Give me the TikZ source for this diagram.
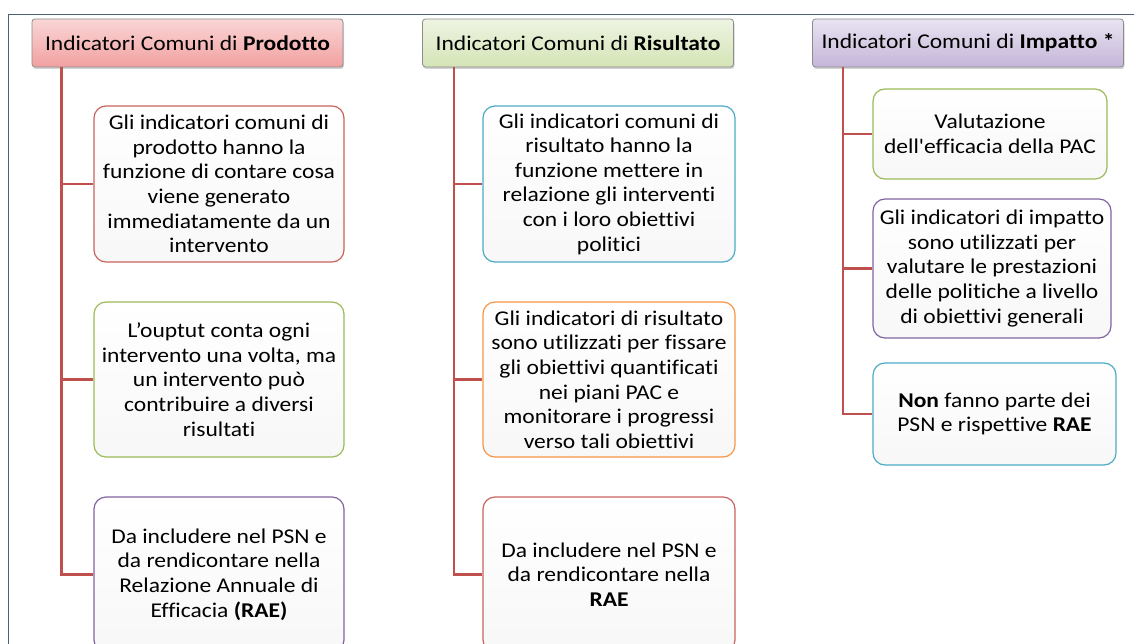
\documentclass[tikz,border=0pt]{standalone}
\usepackage{fontspec}
\newfontfamily\boxfont{Carlito}[Ligatures=NoCommon, FakeStretch=1.12]
\usetikzlibrary{shadows}
\definecolor{linkred}{HTML}{C0504D}
\definecolor{boxred}{HTML}{C9635F}
\definecolor{boxgreen}{HTML}{9BBB59}
\definecolor{boxpurple}{HTML}{8064A2}
\definecolor{boxaqua}{HTML}{4BACC6}
\definecolor{boxorange}{HTML}{F79646}
\definecolor{framecol}{HTML}{4F6079}
\definecolor{hdrline}{HTML}{8C8C8C}
\begin{document}
\begin{tikzpicture}[x=1pt,y=-1pt,
	header/.style={draw=hdrline, line width=0.8pt, rounded corners=3pt, minimum width=311pt, minimum height=48pt,
		font=\boxfont\fontsize{21}{24}\selectfont, drop shadow={shadow xshift=1pt, shadow yshift=-2pt, opacity=0.35}},
	cardbox/.style={draw=#1, line width=1.2pt, rounded corners=12pt, top color=white, bottom color=gray!6,
		align=center, inner sep=0pt, font=\boxfont\fontsize{21}{24.6}\selectfont},
	link/.style={draw=linkred, line width=2.6pt}]
	\clip (0,0) rectangle (1134,644);
	\draw[framecol, line width=1.6pt] (8.5,14.5) rectangle (1160,680);
	% headers
	\node[header, top color={rgb,255:red,250;green,214;blue,214}, bottom color={rgb,255:red,242;green,160;blue,160}] (h1) at (187.5,43) {Indicatori Comuni di \textbf{Prodotto}};
	\node[header, top color={rgb,255:red,238;green,244;blue,226}, bottom color={rgb,255:red,212;green,228;blue,182}] (h2) at (578,43) {Indicatori Comuni di \textbf{Risultato}};
	\node[header, top color={rgb,255:red,233;green,227;blue,241}, bottom color={rgb,255:red,196;green,182;blue,217}] (h3) at (968,43) {Indicatori Comuni di \textbf{Impatto *}};
	% prodotto
	\node[cardbox=boxred, minimum width=250pt, minimum height=156pt] (p1) at (219,184) {Gli indicatori comuni di\\prodotto hanno la\\funzione di contare cosa\\viene generato\\immediatamente da un\\intervento};
	\node[cardbox=boxgreen, minimum width=250pt, minimum height=155pt] (p2) at (219,379.5) {L’ouptut conta ogni\\intervento una volta, ma\\un intervento può\\contribuire a diversi\\risultati};
	\node[cardbox=boxpurple, minimum width=250pt, minimum height=155pt] (p3) at (219,574.5) {Da includere nel PSN e\\da rendicontare nella\\Relazione Annuale di\\Efficacia \textbf{(RAE)}};
	% risultato
	\node[cardbox=boxaqua, minimum width=252pt, minimum height=156pt] (r1) at (609,184) {Gli indicatori comuni di\\risultato hanno la\\funzione mettere in\\relazione gli interventi\\con i loro obiettivi\\politici};
	\node[cardbox=boxorange, minimum width=252pt, minimum height=155pt] (r2) at (609,379.5) {Gli indicatori di risultato\\sono utilizzati per fissare\\gli obiettivi quantificati\\nei piani PAC e\\monitorare i progressi\\verso tali obiettivi};
	\node[cardbox=boxred, minimum width=252pt, minimum height=155pt] (r3) at (609,574.5) {Da includere nel PSN e\\da rendicontare nella\\\textbf{RAE}};
	% impatto
	\node[cardbox=boxgreen, minimum width=234pt, minimum height=90pt] (i1) at (990,134) {Valutazione\\dell'efficacia della PAC};
	\node[cardbox=boxpurple, minimum width=238pt, minimum height=139pt] (i2) at (992,268.5) {Gli indicatori di impatto\\sono utilizzati per\\valutare le prestazioni\\delle politiche a livello\\di obiettivi generali};
	\node[cardbox=boxaqua, minimum width=243pt, minimum height=102pt] (i3) at (994.5,414) {\textbf{Non} fanno parte dei\\PSN e rispettive \textbf{RAE}};
	% connectors
	\draw[link] ([xshift=30pt]h1.south west) |- (p1.west);
	\draw[link] ([xshift=30pt]h1.south west) |- (p2.west);
	\draw[link] ([xshift=30pt]h1.south west) |- (p3.west);
	\draw[link] ([xshift=32pt]h2.south west) |- (r1.west);
	\draw[link] ([xshift=32pt]h2.south west) |- (r2.west);
	\draw[link] ([xshift=32pt]h2.south west) |- (r3.west);
	\draw[link] ([xshift=31pt]h3.south west) |- (i1.west);
	\draw[link] ([xshift=31pt]h3.south west) |- (i2.west);
	\draw[link] ([xshift=31pt]h3.south west) |- (i3.west);
\end{tikzpicture}
\end{document}
